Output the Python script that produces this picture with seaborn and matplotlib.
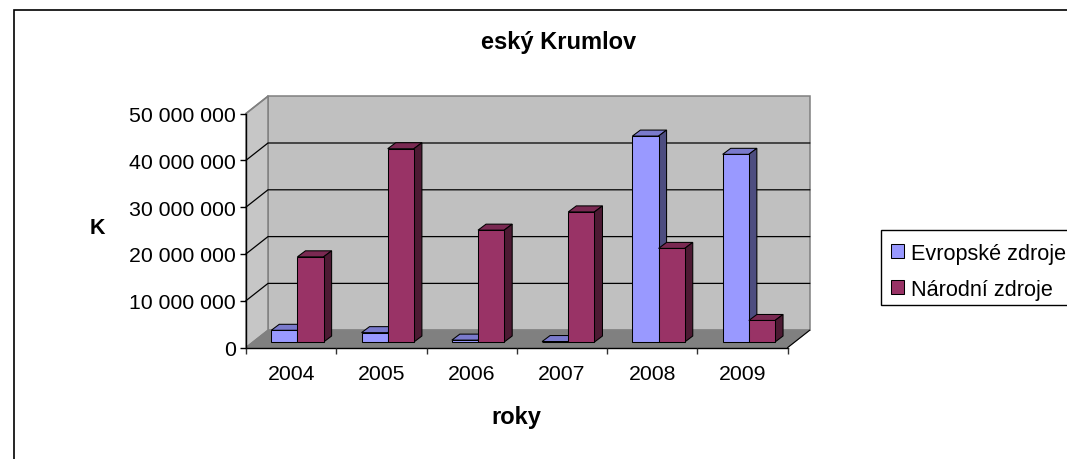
import matplotlib
matplotlib.use("Agg")
import matplotlib.pyplot as plt
import pandas as pd
import seaborn as sns
from matplotlib.lines import Line2D
from matplotlib.patches import Polygon, Rectangle
from matplotlib.transforms import Affine2D

years = ["2004", "2005", "2006", "2007", "2008", "2009"]
evropske = [2500000, 2000000, 400000, 100000, 44000000, 40100000]
narodni = [18200000, 41300000, 23900000, 27800000, 20000000, 4600000]
series_names = ["Evropské zdroje", "Národní zdroje"]
yticks = [0, 10000000, 20000000, 30000000, 40000000, 50000000]
ytick_labels = ["0", "10 000 000", "20 000 000", "30 000 000", "40 000 000", "50 000 000"]
title_text = "eský Krumlov"
ylabel_text = "K"
xlabel_text = "roky"

W, H = 1067, 460
FACE = {"Evropské zdroje": "#9999ff", "Národní zdroje": "#993366"}
TOP = {"Evropské zdroje": "#7a7acc", "Národní zdroje": "#7a2952"}
SIDE = {"Evropské zdroje": "#4d4d80", "Národní zdroje": "#4d1a33"}
LW = 0.75

plt.rcParams["font.family"] = ["Liberation Sans", "DejaVu Sans"]
df = pd.DataFrame({
    "rok": years * 2,
    "zdroj": [series_names[0]] * 6 + [series_names[1]] * 6,
    "hodnota": evropske + narodni,
})

fig = plt.figure(figsize=(W / 100, H / 100), dpi=100)
L, R, T, B = 246.0, 787.7, 114.5, 348.5
ax = fig.add_axes([L / W, 1 - B / H, (R - L) / W, (B - T) / H])
ax.set_facecolor("none")

sns.barplot(data=df, x="rok", y="hodnota", hue="zdroj", hue_order=series_names,
            palette=FACE, width=0.58, gap=0, dodge=True, legend=False, ax=ax,
            edgecolor="black", linewidth=LW, saturation=1, errorbar=None)
ax.set_xlim(-0.5, 5.5)
ax.set_ylim(0, 50000000)

DX, DY = 22.0, 17.3   # wall depth, px
back = ax.transData + Affine2D().translate(DX, DY)
bar_base = ax.transData + Affine2D().translate(6.3, 5.5)

x0, x1 = ax.get_xlim()
ymax = ax.get_ylim()[1]
wall_kw = dict(edgecolor="#808080", linewidth=1.1, zorder=0.5, clip_on=False)
# back wall, left wall, floor: built from the axes limits
ax.add_patch(Polygon([(x0, 0), (x1, 0), (x1, ymax), (x0, ymax)], closed=True,
                     facecolor="#c0c0c0", transform=back, **wall_kw))
pts = [ax.transData.transform(p) for p in [(x0, 0), (x0, ymax)]]
ax.add_patch(Polygon([pts[0], pts[1], pts[1] + (DX, DY), pts[0] + (DX, DY)], closed=True,
                     facecolor="#c6c6c6", transform=None, **wall_kw))
f = [ax.transData.transform(p) for p in [(x0, 0), (x1, 0)]]
ax.add_patch(Polygon([f[0], f[1], f[1] + (DX, DY), f[0] + (DX, DY)], closed=True,
                     facecolor="#808080", edgecolor="#808080", linewidth=0.8, zorder=0.6,
                     transform=None, clip_on=False))
ax.add_line(Line2D([f[1][0], f[1][0] + DX], [f[1][1], f[1][1] + DY], color="black", lw=0.8,
                   transform=None, zorder=0.65, clip_on=False))
# gridlines on back wall, slanted on left wall
for v in yticks[1:-1]:
    p = ax.transData.transform((x0, v))
    q = ax.transData.transform((x1, v))
    ax.add_line(Line2D([p[0], p[0] + DX, q[0] + DX], [p[1], p[1] + DY, q[1] + DY],
                       color="black", lw=0.9, transform=None, zorder=0.7, clip_on=False))
p = ax.transData.transform((x0, ymax))
ax.add_line(Line2D([p[0], p[0] + DX], [p[1], p[1] + DY], color="#808080", lw=1.1,
                   transform=None, zorder=0.7, clip_on=False))

# 3D bar faces derived from the seaborn bars
bars = [(b, name) for c, name in zip(ax.containers, series_names) for b in c]
bars.sort(key=lambda t: t[0].get_x())
for i, (b, name) in enumerate(bars):
    z = 2 + i
    b.set_transform(bar_base)
    b.set_zorder(z + 0.5)
    b.set_clip_on(False)
    xa, xb, v = b.get_x(), b.get_x() + b.get_width(), b.get_height()
    a0 = bar_base.transform((xa, v))
    b0 = bar_base.transform((xb, v))
    b1 = bar_base.transform((xb, 0))
    off = (8, 6)
    ax.add_patch(Polygon([a0, b0, b0 + off, a0 + off], closed=True, facecolor=TOP[name],
                         edgecolor="black", linewidth=LW, transform=None, zorder=z, clip_on=False))
    ax.add_patch(Polygon([b0, b1, b1 + off, b0 + off], closed=True, facecolor=SIDE[name],
                         edgecolor="black", linewidth=LW, transform=None, zorder=z, clip_on=False))

# axes
for s in ["top", "right"]:
    ax.spines[s].set_visible(False)
for s in ["left", "bottom"]:
    ax.spines[s].set_color("black")
    ax.spines[s].set_linewidth(1.0)
    ax.spines[s].set_zorder(1)
ax.set_yticks(yticks)
ax.set_yticklabels(ytick_labels, fontsize=15.3)
ax.set_xticks([i - 0.5 for i in range(7)])
ax.set_xticklabels([])
ax.set_xticks(range(6), labels=years, minor=True, fontsize=15.3)
ax.tick_params(axis="x", which="minor", length=0, pad=11.7)
ax.tick_params(axis="x", which="major", length=4.3, width=1, color="#333333")
ax.tick_params(axis="y", length=4.3, width=1, pad=3)
ax.set_xlabel("")
ax.set_ylabel("")

fig.text(559 / W, 1 - 43 / H, title_text, ha="center", va="center", fontsize=17, fontweight="bold")
fig.text(97 / W, 1 - 229 / H, ylabel_text, ha="center", va="center", fontsize=15.5, fontweight="bold")
fig.text(516 / W, 1 - 418 / H, xlabel_text, ha="center", va="center", fontsize=17, fontweight="bold")

# outer frame
fig.add_artist(Rectangle((14.3 / W, -0.02), 1.1, 1 - 11 / H + 0.02, transform=fig.transFigure,
                         facecolor="none", edgecolor="black", linewidth=1.2))

# legend box and entries
fig.add_artist(Rectangle((881 / W, 1 - 306 / H), 200 / W, 75.5 / H, transform=fig.transFigure,
                         facecolor="white", edgecolor="black", linewidth=1))
handles = [Rectangle((0, 0), 1, 1, facecolor=FACE[n], edgecolor="black", linewidth=LW) for n in series_names]
leg = fig.legend(handles, series_names, loc="upper left", bbox_to_anchor=(881 / W, 1 - 234.2 / H),
                 fontsize=15.6, frameon=False,
                 handlelength=0.6, handleheight=0.6, handletextpad=0.33, labelspacing=0.683,
                 borderpad=0.44, borderaxespad=0)
leg.set_zorder(5)

fig.savefig("out.png", dpi=100)
